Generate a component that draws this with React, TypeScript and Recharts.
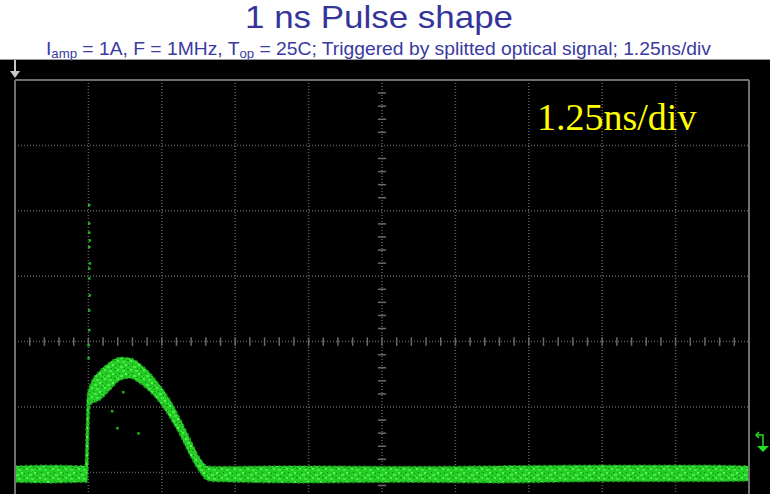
import React from 'react';
import {
    ComposedChart,
    Area,
    Scatter,
    XAxis,
    YAxis,
    CartesianGrid,
    ReferenceLine,
} from 'recharts';

// time in ns (1.25 ns / div), level in screen divisions
const timeNs = [0, 0.6, 1.19, 1.23, 1.28, 1.45, 1.62, 1.79, 1.96, 2.13, 2.3, 2.47, 2.64, 2.81, 2.98, 3.15, 3.27, 3.41, 4.85, 6.56, 8.26, 9.96, 11.67, 12.5];
const upperDiv = [-1.9, -1.89, -1.9, -0.82, -0.66, -0.44, -0.31, -0.24, -0.25, -0.34, -0.48, -0.67, -0.89, -1.17, -1.48, -1.78, -1.9, -1.91, -1.9, -1.91, -1.9, -1.89, -1.89, -1.9];
const lowerDiv = [-2.15, -2.16, -2.15, -2.15, -0.97, -0.89, -0.74, -0.59, -0.56, -0.64, -0.77, -0.94, -1.17, -1.43, -1.74, -2.0, -2.12, -2.14, -2.16, -2.15, -2.16, -2.14, -2.14, -2.13];

// sparse samples of the trigger spike and stray dots
const spikeTimes = [1.26, 1.26, 1.26, 1.27, 1.26, 1.27, 1.26, 1.26, 1.27, 1.26, 1.26, 1.25, 1.25];
const spikeLevels = [2.09, 1.81, 1.67, 1.55, 1.45, 1.2, 1.12, 0.97, 0.71, 0.48, 0.18, -0.05, -0.25];
const strayTimes = [1.74, 1.65, 2.1, 1.84];
const strayLevels = [-1.32, -1.06, -1.4, -0.77];

const xTicks = Array.from({ length: 11 }, (_, i) => i * 1.25);
const yTicks = [-2, -1, 0, 1, 2, 3, 4];

const trace = timeNs.map((t, i) => ({
    t,
    band: [lowerDiv[i], upperDiv[i]],
}));
const spikes = spikeTimes.map((t, i) => ({ t, v: spikeLevels[i] }));
const strays = strayTimes.map((t, i) => ({ t, v: strayLevels[i] }));

const GRID = '#5e5e5e';
const FRAME = '#6f6f6f';

const hTicks = Array.from({ length: 49 }, (_, i) => (i + 1) * 0.25);
const vTicks = Array.from({ length: 31 }, (_, i) => -2.2 + i * 0.2).filter(
    (v) => Math.abs(v - Math.round(v)) > 0.05
);

const Dot = (props: any) => (
    <rect x={props.cx - 1} y={props.cy - 1} width={2.5} height={2.5} fill="#1fb81f" />
);

const App = () => {
    return (
        <div
            style={{
                position: 'fixed',
                left: 0,
                top: 0,
                width: 770,
                height: 494,
                background: '#fff',
                overflow: 'hidden',
            }}
        >
            <div
                style={{
                    position: 'absolute',
                    left: 0,
                    top: 59,
                    width: 770,
                    height: 435,
                    background: '#000',
                    borderTop: '1px solid #9a9a9a',
                }}
            />
            <svg width={0} height={0} style={{ position: 'absolute' }}>
                <defs>
                    <pattern id="speckle" width={13} height={9} patternUnits="userSpaceOnUse">
                        <rect width={13} height={9} fill="#26cc26" />
                        <rect x={0} y={0} width={2} height={2} fill="#4cf24c" />
                        <rect x={5} y={1} width={3} height={2} fill="#3ee83e" />
                        <rect x={10} y={0} width={2} height={1} fill="#139313" />
                        <rect x={2} y={4} width={1} height={1} fill="#0f7f0f" />
                        <rect x={8} y={4} width={2} height={2} fill="#55f755" />
                        <rect x={11} y={5} width={1} height={1} fill="#148a14" />
                        <rect x={3} y={6} width={3} height={2} fill="#44ee44" />
                        <rect x={7} y={8} width={1} height={1} fill="#107c10" />
                        <rect x={0} y={7} width={1} height={1} fill="#18a018" />
                        <rect x={12} y={7} width={1} height={2} fill="#3ce63c" />
                    </pattern>
                </defs>
            </svg>
            <div style={{ position: 'absolute', left: 0, top: 0 }}>
                <ComposedChart
                    width={770}
                    height={494}
                    data={trace}
                    margin={{ top: 80, right: 21, bottom: 0, left: 15 }}
                >
                    <XAxis
                        dataKey="t"
                        type="number"
                        domain={[0, 12.5]}
                        ticks={xTicks}
                        hide
                        allowDataOverflow
                    />
                    <YAxis
                        type="number"
                        domain={[-2.33, 4]}
                        ticks={yTicks}
                        hide
                        allowDataOverflow
                    />
                    <CartesianGrid
                        stroke={GRID}
                        strokeDasharray="1 2"
                        strokeWidth={1.5}
                        verticalValues={xTicks}
                        horizontalValues={yTicks}
                    />
                    {hTicks.map((t) => (
                        <ReferenceLine
                            key={`h${t}`}
                            segment={[
                                { x: t, y: -0.065 },
                                { x: t, y: 0.065 },
                            ]}
                            stroke="#6a6a6a"
                            strokeWidth={1.5}
                        />
                    ))}
                    {vTicks.map((v) => (
                        <ReferenceLine
                            key={`v${v}`}
                            segment={[
                                { x: 6.18, y: v },
                                { x: 6.32, y: v },
                            ]}
                            stroke="#6a6a6a"
                            strokeWidth={1.5}
                        />
                    ))}
                    <ReferenceLine x={0} stroke={FRAME} strokeWidth={2} />
                    <ReferenceLine x={12.5} stroke={FRAME} strokeWidth={2} />
                    <ReferenceLine y={4} stroke={FRAME} strokeWidth={2} />
                    <Area
                        dataKey="band"
                        type="monotone"
                        stroke="#1c9e1c"
                        strokeWidth={1.5}
                        strokeDasharray="2 3"
                        fill="url(#speckle)"
                        fillOpacity={1}
                        isAnimationActive={false}
                    />
                    <Scatter data={spikes} dataKey="v" shape={Dot} isAnimationActive={false} />
                    <Scatter data={strays} dataKey="v" shape={Dot} isAnimationActive={false} />
                </ComposedChart>
            </div>
            <svg
                width={770}
                height={494}
                style={{ position: 'absolute', left: 0, top: 0, pointerEvents: 'none' }}
            >
                <text
                    x={245}
                    y={28}
                    fontFamily="Liberation Sans, Arial, sans-serif"
                    fontSize={32}
                    fill="#34349a"
                    textLength={268}
                    lengthAdjust="spacingAndGlyphs"
                >
                    1 ns Pulse shape
                </text>
                <text
                    x={46}
                    y={55}
                    fontFamily="Liberation Sans, Arial, sans-serif"
                    fontSize={19}
                    fill="#3a3aa0"
                    textLength={665}
                    lengthAdjust="spacingAndGlyphs"
                >
                    I<tspan fontSize={13} dy={3}>amp</tspan>
                    <tspan dy={-3}> = 1A, F = 1MHz, T</tspan>
                    <tspan fontSize={13} dy={3}>op</tspan>
                    <tspan dy={-3}> = 25C; Triggered by splitted optical signal; 1.25ns/div</tspan>
                </text>
                <text
                    x={537}
                    y={130}
                    fontFamily="Liberation Serif, Times New Roman, serif"
                    fontSize={38}
                    fill="#ffff00"
                >
                    1.25ns/div
                </text>
                {/* trigger position marker */}
                <line x1={15} y1={60} x2={15} y2={72} stroke="#c8c8c8" strokeWidth={2} />
                <polygon points="10,71 20,71 15,78" fill="#c8c8c8" />
                {/* trigger level marker */}
                <polyline
                    points="756,435 763,435 763,446"
                    fill="none"
                    stroke="#22dd22"
                    strokeWidth={1.5}
                />
                <polyline
                    points="759,432 756,435 759,438"
                    fill="none"
                    stroke="#22dd22"
                    strokeWidth={1.5}
                />
                <polygon points="757,446 769,446 763,452" fill="#22dd22" />
            </svg>
        </div>
    );
};

export default App;
